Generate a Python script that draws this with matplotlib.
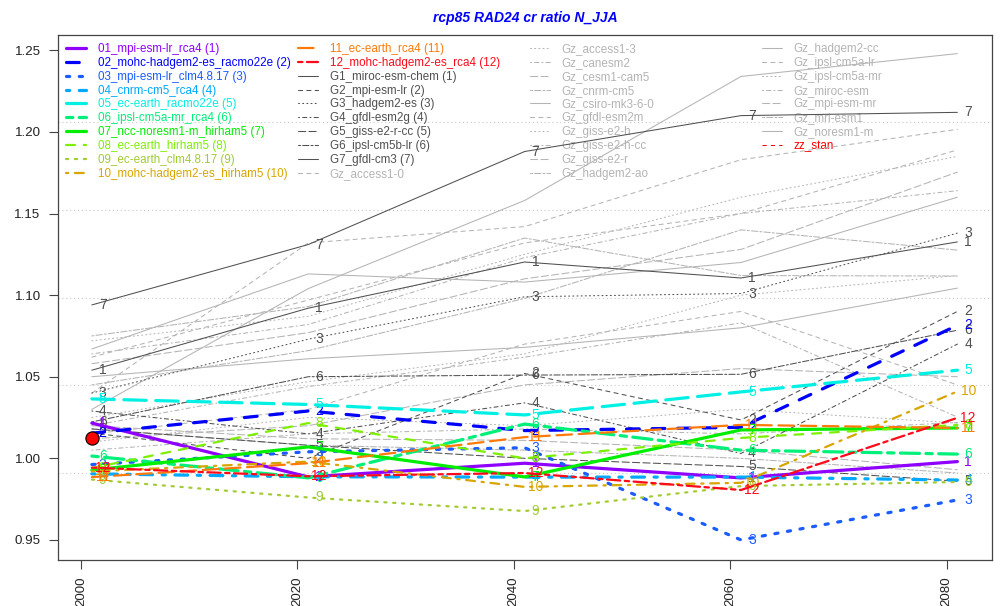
import matplotlib
matplotlib.use("Agg")
import matplotlib.pyplot as plt
from matplotlib.legend import Legend

plt.rcParams["font.family"] = ["Liberation Sans", "DejaVu Sans"]

# ---------------------------------------------------------------- data
years = [2001, 2021, 2041, 2061, 2081]

rcm_names = [
    "01_mpi-esm-lr_rca4", "02_mohc-hadgem2-es_racmo22e", "03_mpi-esm-lr_clm4.8.17",
    "04_cnrm-cm5_rca4", "05_ec-earth_racmo22e", "06_ipsl-cm5a-mr_rca4",
    "07_ncc-noresm1-m_hirham5", "08_ec-earth_hirham5", "09_ec-earth_clm4.8.17",
    "10_mohc-hadgem2-es_hirham5", "11_ec-earth_rca4", "12_mohc-hadgem2-es_rca4",
]
rcm_values = [
    [1.0216, 0.9886, 0.9970, 0.9880, 0.9980],
    [1.0154, 1.0290, 1.0170, 1.0190, 1.0815],
    [0.9962, 1.0040, 1.0065, 0.9500, 0.9745],
    [0.9905, 0.9887, 0.9885, 0.9885, 0.9867],
    [1.0364, 1.0330, 1.0266, 1.0407, 1.0540],
    [1.0014, 0.9880, 1.0210, 1.0050, 1.0026],
    [0.9928, 1.0070, 0.9886, 1.0174, 1.0186],
    [0.9940, 1.0216, 1.0000, 1.0125, 1.0205],
    [0.9870, 0.9760, 0.9677, 0.9830, 0.9855],
    [0.9920, 0.9980, 0.9825, 0.9850, 1.0410],
    [0.9885, 0.9970, 1.0130, 1.0205, 1.0186],
    [0.9943, 0.9890, 0.9910, 0.9806, 1.0248],
]

gcm_names = [
    "G1_miroc-esm-chem", "G2_mpi-esm-lr", "G3_hadgem2-es", "G4_gfdl-esm2g",
    "G5_giss-e2-r-cc", "G6_ipsl-cm5b-lr", "G7_gfdl-cm3",
]
gcm_values = [
    [1.0540, 1.0920, 1.1203, 1.1105, 1.1326],
    [1.0155, 1.0000, 1.0520, 1.0235, 1.0900],
    [1.0400, 1.0730, 1.0990, 1.1010, 1.1380],
    [1.0290, 1.0150, 1.0340, 1.0030, 1.0700],
    [1.0180, 1.0080, 1.0000, 0.9950, 0.9860],
    [1.0223, 1.0500, 1.0510, 1.0515, 1.0785],
    [1.0940, 1.1310, 1.1880, 1.2100, 1.2120],
]

gz_names = [
    "Gz_access1-0", "Gz_access1-3", "Gz_canesm2", "Gz_cesm1-cam5", "Gz_cnrm-cm5",
    "Gz_csiro-mk3-6-0", "Gz_gfdl-esm2m", "Gz_giss-e2-h", "Gz_giss-e2-h-cc",
    "Gz_giss-e2-r", "Gz_hadgem2-ao", "Gz_hadgem2-cc", "Gz_ipsl-cm5a-lr",
    "Gz_ipsl-cm5a-mr", "Gz_miroc-esm", "Gz_mpi-esm-mr", "Gz_mri-esm1", "Gz_noresm1-m",
]
gz_values = [
    [1.0400, 1.1320, 1.1420, 1.1830, 1.2016],
    [1.0720, 1.0870, 1.1250, 1.1600, 1.1850],
    [1.0640, 1.0820, 1.1230, 1.1500, 1.1640],
    [1.0580, 1.0770, 1.1100, 1.1280, 1.1754],
    [1.0450, 1.0660, 1.0980, 1.1400, 1.1276],
    [1.0670, 1.1130, 1.1080, 1.1200, 1.1600],
    [1.0620, 1.0970, 1.1320, 1.1500, 1.1890],
    [1.0250, 1.0470, 1.0640, 1.1000, 1.1120],
    [1.0200, 1.0440, 1.0620, 1.0830, 1.0253],
    [1.0120, 1.0200, 1.0450, 1.0550, 1.0500],
    [1.0750, 1.0930, 1.1350, 1.1120, 1.1117],
    [1.0300, 1.1040, 1.1580, 1.2340, 1.2480],
    [1.0150, 1.0300, 1.0700, 1.0900, 1.0450],
    [1.0100, 1.0250, 1.0200, 1.0300, 1.0216],
    [1.0050, 1.0150, 1.0180, 1.0150, 1.0220],
    [1.0200, 1.0120, 1.0110, 1.0050, 0.9930],
    [1.0180, 1.0080, 1.0050, 1.0000, 0.9910],
    [1.0500, 1.0610, 1.0680, 1.0800, 1.1043],
]

stan_years = [2001]
stan_values = [1.0124]

y_ticks = [0.95, 1.00, 1.05, 1.10, 1.15, 1.20, 1.25]
x_ticks = [2000, 2020, 2040, 2060, 2080]

# ---------------------------------------------------------------- styles
LTY = [
    "-",                      # solid
    (0, (4, 4)),              # dashed
    (0, (1, 3)),              # dotted
    (0, (1, 3, 4, 3)),        # dotdash
    (0, (7, 3)),              # longdash
    (0, (2, 2, 6, 2)),        # twodash
]
rcm_colors = [
    "#8F00FF", "#0000FF", "#1A5CFF", "#00A8FF", "#00F0E4", "#00F07A",
    "#00EE00", "#7CF000", "#A2CC33", "#D8A600", "#FF7A0A", "#FF0A1A",
]
rcm_lw = [2.3] * 7 + [1.6] * 5
gcm_color = "#505050"
gz_color = "#B4B4B4"

W, H = 1000, 606
fig = plt.figure(figsize=(W / 100, H / 100), dpi=100)
ax = fig.add_axes([58 / W, 1 - 560 / H, (992 - 58) / W, (560 - 35) / H])

ax.set_xlim(1997.87, 2084.2)
ax.set_ylim(0.9377, 1.2594)

# horizontal dotted grid dividing the y range in six
y0, y1 = ax.get_ylim()
for k in range(1, 6):
    ax.axhline(y0 + k * (y1 - y0) / 6, color="#C8C8C8", lw=0.8,
               ls=(0, (1, 2.5)), zorder=1)

common = dict(solid_capstyle="round", dash_capstyle="round")

gz_handles = []
for i, (name, vals) in enumerate(zip(gz_names, gz_values)):
    h, = ax.plot(years, vals, color=gz_color, lw=0.75,
                 ls=LTY[(i + 1) % 6], label=name, zorder=2, **common)
    gz_handles.append(h)

gcm_handles = []
for i, (name, vals) in enumerate(zip(gcm_names, gcm_values)):
    h, = ax.plot(years, vals, color=gcm_color, lw=0.75, ls=LTY[i % 6],
                 label=f"{name} ({i + 1})", zorder=3, **common)
    gcm_handles.append(h)
    for yr, v in zip(years, vals):
        ax.text(yr + 1, v, str(i + 1), color=gcm_color, fontsize=10,
                ha="center", va="center", zorder=3)

rcm_handles = []
for i, (name, vals) in enumerate(zip(rcm_names, rcm_values)):
    h, = ax.plot(years, vals, color=rcm_colors[i], lw=rcm_lw[i],
                 ls=LTY[i % 6], label=f"{name} ({i + 1})", zorder=4, **common)
    rcm_handles.append(h)
    for yr, v in zip(years, vals):
        ax.text(yr + 1, v, str(i + 1), color=rcm_colors[i], fontsize=10,
                ha="center", va="center", zorder=4)

stan_handle, = ax.plot(stan_years, stan_values, color="#FF0000", lw=0.75,
                       ls=LTY[1], label="zz_stan", zorder=5)
ax.plot(stan_years, stan_values, ls="none", marker="o", markersize=9.5,
        markerfacecolor="#FF0000", markeredgecolor="#000000",
        markeredgewidth=0.8, zorder=6)

# legend in four columns of ten rows, beneath the lines
all_handles = rcm_handles + gcm_handles + gz_handles + [stan_handle]
columns = [all_handles[0:10], all_handles[10:20], all_handles[20:30], all_handles[30:]]
col_x = [66, 298, 530, 762]
for hs, xp in zip(columns, col_x):
    leg = Legend(ax, hs, [h.get_label() for h in hs], loc="upper left",
                 bbox_to_anchor=(xp / W, 1 - 43 / H), bbox_transform=fig.transFigure,
                 frameon=False, fontsize=8.4, borderpad=0, borderaxespad=0,
                 handlelength=1.7, handletextpad=1.0, labelspacing=0.16,
                 labelcolor="linecolor")
    leg.set_zorder(1)
    ax.add_artist(leg)

ax.set_yticks(y_ticks)
ax.set_yticklabels([f"{v:.2f}" for v in y_ticks])
ax.set_xticks(x_ticks)
ax.set_xticklabels([str(v) for v in x_ticks], rotation=90)
ax.tick_params(axis="both", direction="out", length=6.5, width=0.8,
               colors="#444444", labelcolor="#222222", labelsize=9.6)
ax.tick_params(axis="y", pad=6)
ax.tick_params(axis="x", pad=5.5)
for sp in ax.spines.values():
    sp.set_color("#444444")
    sp.set_linewidth(0.9)

ax.set_title("rcp85 RAD24 cr ratio N_JJA", color="#0000FF", fontsize=10,
             fontweight="bold", style="italic", pad=9.5)

fig.savefig("out.png", dpi=100)
